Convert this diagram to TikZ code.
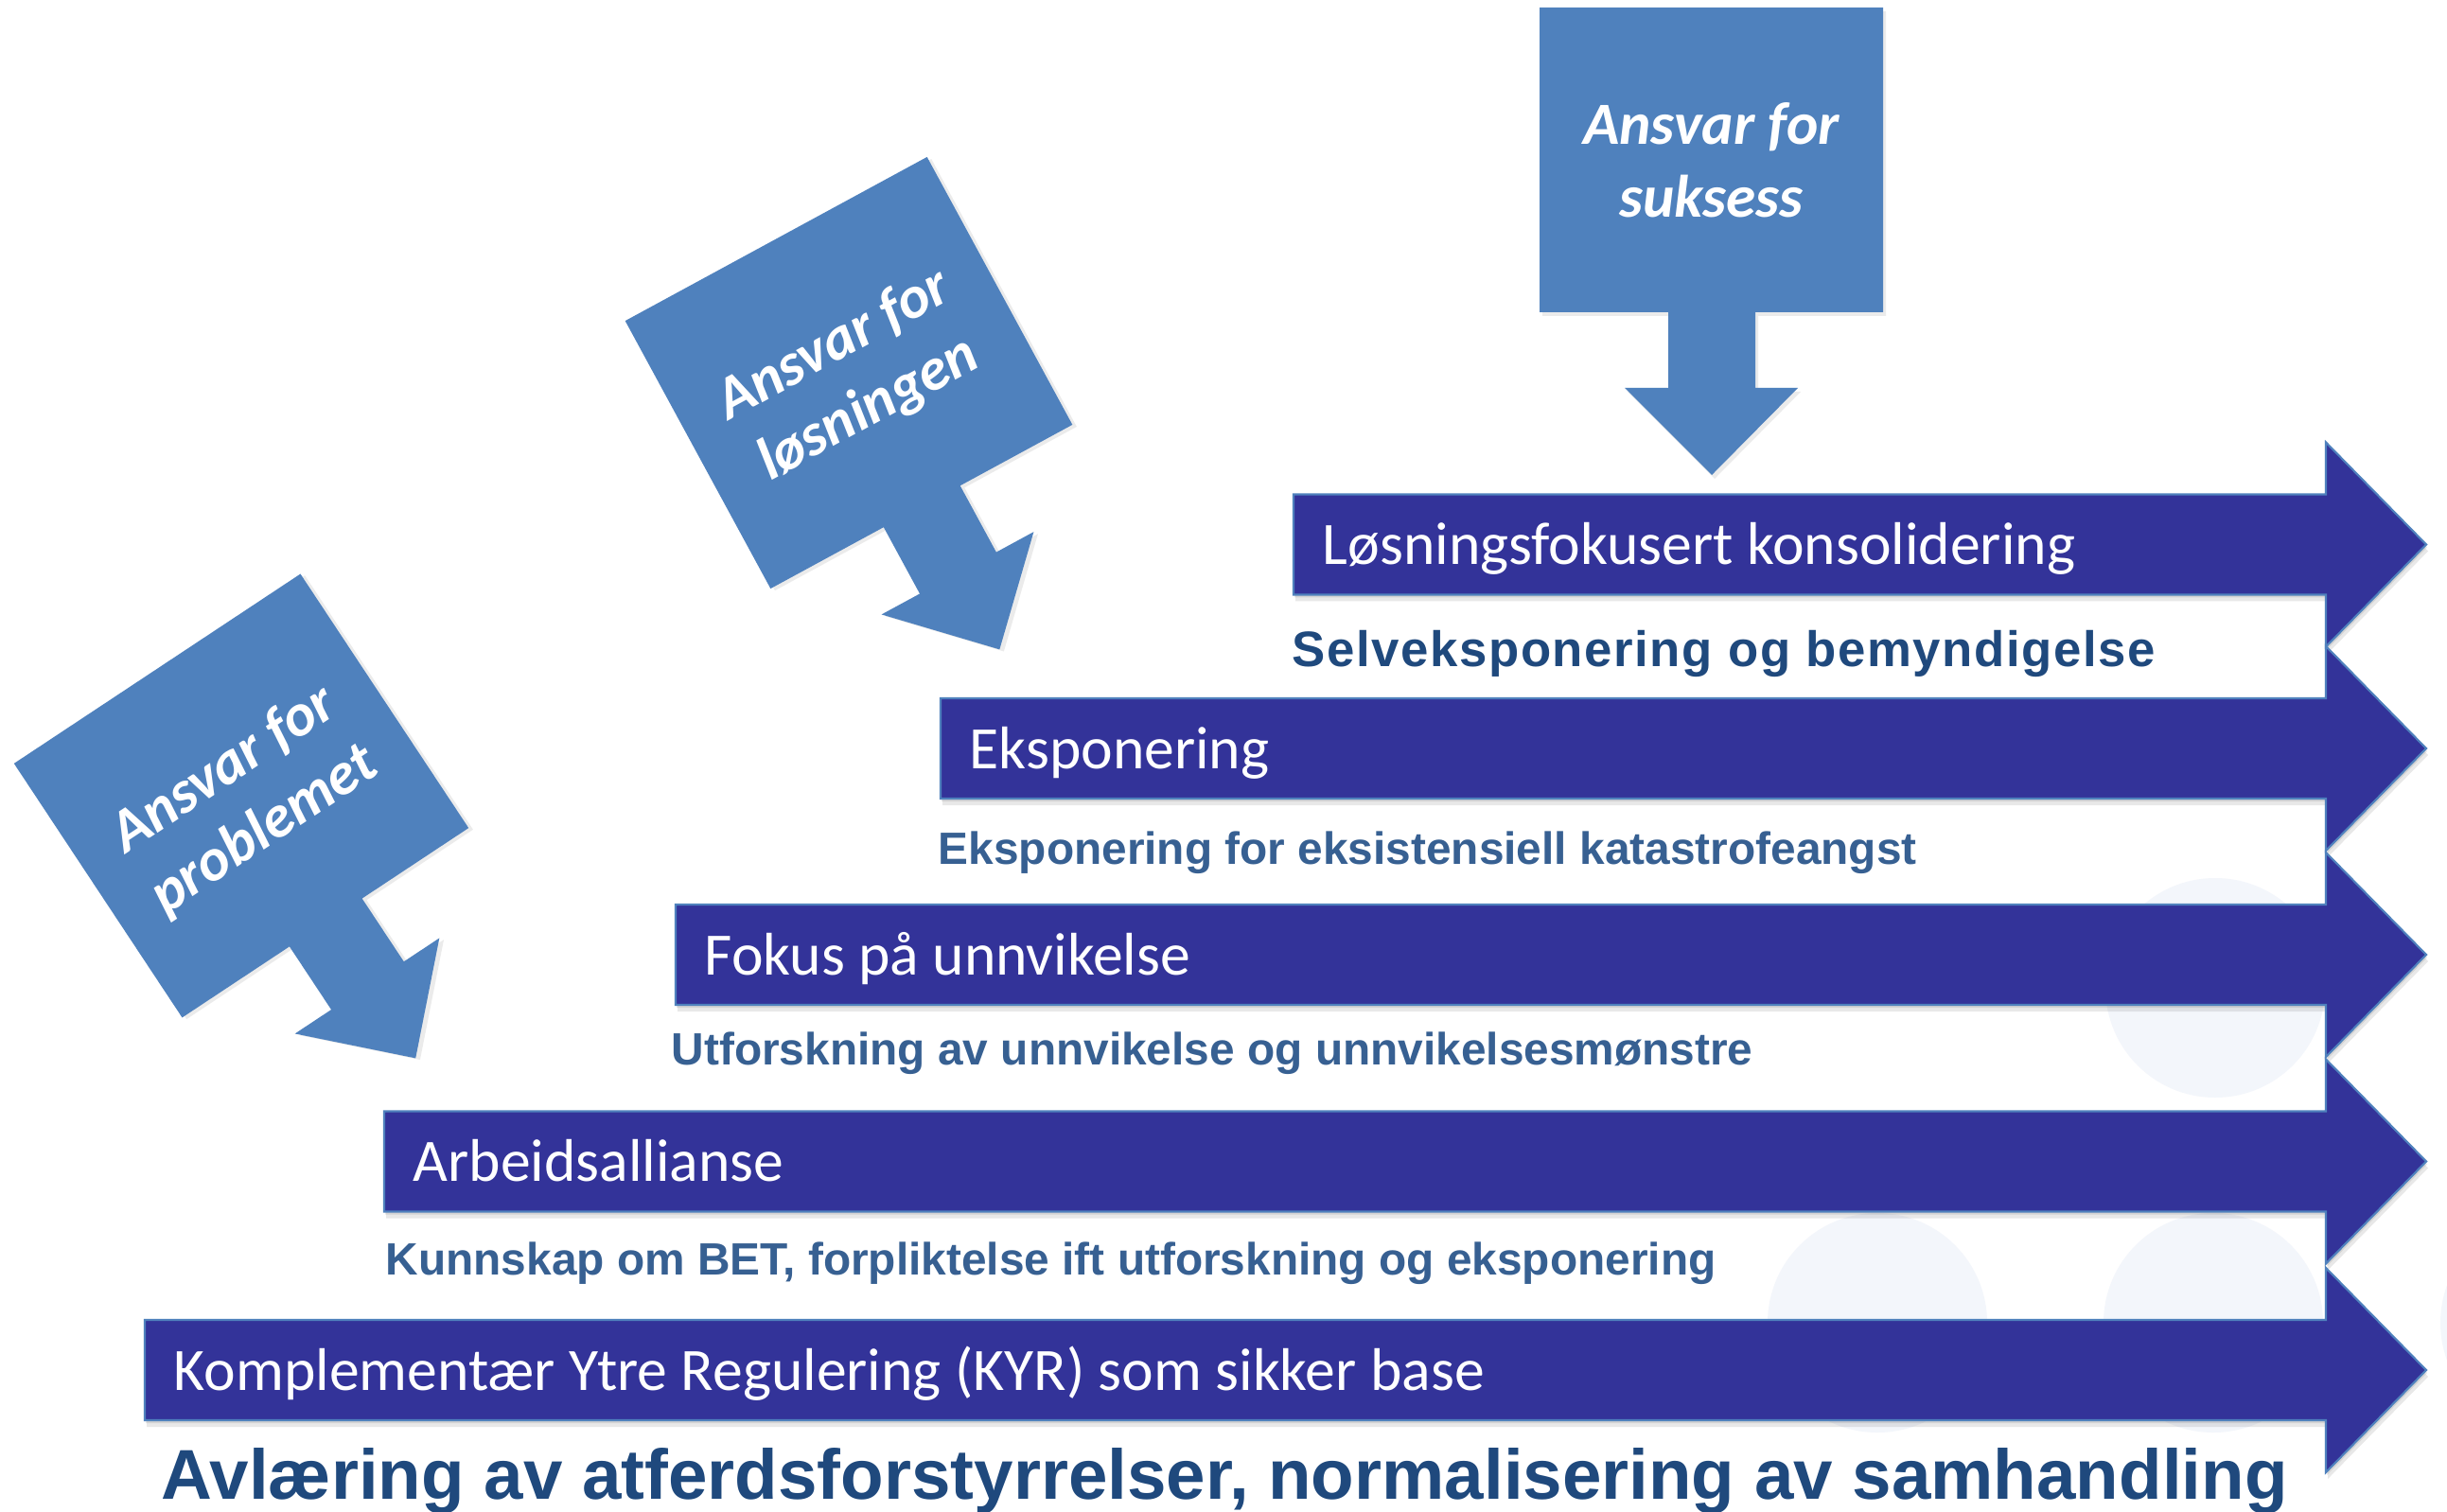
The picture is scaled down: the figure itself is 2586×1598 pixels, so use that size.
\documentclass[tikz,border=0pt]{standalone}
\usepackage{fontspec}
\setmainfont{Carlito}
\newfontfamily\subfont{Liberation Sans}
\newfontfamily\subfontwide{Liberation Sans}[LetterSpace=3]
\definecolor{bandfill}{HTML}{333399}
\definecolor{bandedge}{HTML}{4F81BD}
\definecolor{callfill}{HTML}{4F81BD}
\definecolor{darktext}{HTML}{1F497D}
\definecolor{midtext}{HTML}{376092}
\definecolor{ghostfill}{HTML}{F3F6FB}
\newcommand\bandpath[2]{(#1,#2-53) -- (2458,#2-53) -- (2458,#2-108) -- (2564,#2) -- (2458,#2+108) -- (2458,#2+53) -- (#1,#2+53) -- cycle}
\newcommand\calloutpath{(-181.5,-161) -- (181.5,-161) -- (181.5,161) -- (46.5,161) -- (46.5,241) -- (91.5,241) -- (0.5,333) -- (-91.5,241) -- (-45.5,241) -- (-45.5,161) -- (-181.5,161) -- cycle}
\tikzset{
  bandarrow/.style={fill=bandfill, draw=bandedge, line width=0.6pt, line join=miter},
  bandshadow/.style={fill=black, opacity=0.09},
  bandlabel/.style={anchor=base west, text=white, inner sep=0pt, font=\fontsize{18.1}{21}\selectfont},
  sublabel/.style={anchor=base west, inner sep=0pt, font=\subfont\bfseries\fontsize{13.6}{16}\selectfont},
  calloutshape/.style={fill=callfill},
  calloutshadow/.style={fill=black, opacity=0.08},
  callouttext/.style={anchor=base, text=white, inner sep=0pt, font=\bfseries\itshape\fontsize{18}{22}\selectfont},
  ghost/.style={fill=ghostfill},
}
\begin{document}
\begin{tikzpicture}[x=0.01cm, y=-0.01cm]
\useasboundingbox (0,0) rectangle (2586,1598);
\fill[white] (0,0) rectangle (2586,1598);

% faint background circles
\fill[ghost] (2341,1044) circle (116);
\fill[ghost] (1984,1398) circle (116);
\fill[ghost] (2339,1398) circle (116);
\fill[ghost] (2695,1398) circle (116);

% band shadows
\foreach \l/\c in {1367/575.5, 994/791, 714/1009, 406/1227.5, 153/1448}{
  \fill[bandshadow, shift={(1,3)}] \bandpath{\l}{\c};
  \fill[bandshadow, shift={(2,7)}] \bandpath{\l}{\c};
}
% band arrows
\foreach \l/\c in {1367/575.5, 994/791, 714/1009, 406/1227.5, 153/1448}{
  \draw[bandarrow] \bandpath{\l}{\c};
}

\node[bandlabel] (b1) at (1397,596.5) {Løsningsfokusert konsolidering};
\node[bandlabel] (b2) at (1024,812) {Eksponering};
\node[bandlabel] (b3) at (744,1030) {Fokus på unnvikelse};
\node[bandlabel] (b4) at (436,1248.5) {Arbeidsallianse};
\node[bandlabel] (b5) at (183,1469) {Komplementær Ytre Regulering (KYR) som sikker base};

\node[sublabel, text=darktext, font=\subfontwide\bfseries\fontsize{15}{18}\selectfont] (s1) at (1365,705) {Selveksponering og bemyndigelse};
\node[sublabel, text=midtext] (s2) at (991,913) {Eksponering for eksistensiell katastrofeangst};
\node[sublabel, text=midtext] (s3) at (709,1125) {Utforskning av unnvikelse og unnvikelsesmønstre};
\node[sublabel, text=midtext] (s4) at (407,1347) {Kunnskap om BET, forpliktelse ift utforskning og eksponering};
\node[sublabel, text=darktext, font=\subfont\bfseries\fontsize{21.2}{25}\selectfont] (s5) at (170,1584) {Avlæring av atferdsforstyrrelser, normalisering av samhandling};

% callout: Ansvar for suksess
\begin{scope}[shift={(1808.5,169)}]
  \fill[calloutshadow, shift={(3,4)}] \calloutpath;
  \fill[calloutshape] \calloutpath;
  \node[callouttext] (c1a) at (0,-16) {Ansvar for};
  \node[callouttext] (c1b) at (0,61) {suksess};
\end{scope}

% callout: Ansvar for løsningen
\begin{scope}[shift={(897,394)}, rotate=28.5]
  \fill[calloutshadow, shift={(3,4)}] \calloutpath;
  \fill[calloutshape] \calloutpath;
  \node[callouttext, rotate=28.5] (c2a) at (0,-16) {Ansvar for};
  \node[callouttext, rotate=28.5] (c2b) at (0,61) {løsningen};
\end{scope}

% callout: Ansvar for problemet
\begin{scope}[shift={(255,841)}, rotate=33.5]
  \fill[calloutshadow, shift={(3,4)}] \calloutpath;
  \fill[calloutshape] \calloutpath;
  \node[callouttext, rotate=33.5] (c3a) at (0,-16) {Ansvar for};
  \node[callouttext, rotate=33.5] (c3b) at (0,61) {problemet};
\end{scope}
\end{tikzpicture}
\end{document}
